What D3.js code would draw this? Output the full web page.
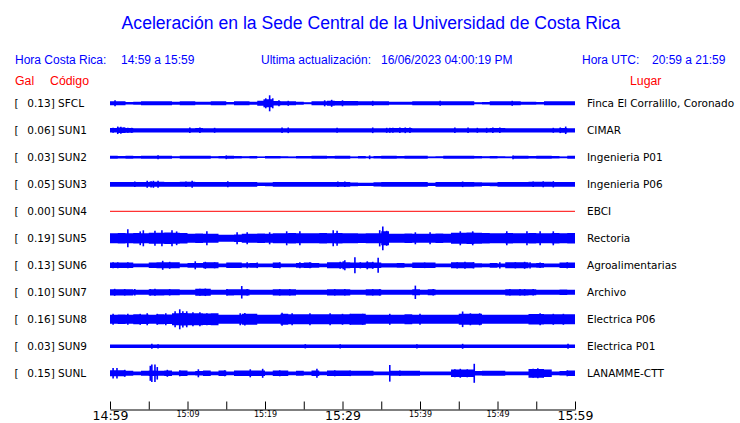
<!DOCTYPE html>
<html><head><meta charset="utf-8">
<script src="https://cdn.jsdelivr.net/npm/d3@7"></script>
<style>body{margin:0;background:#fff}svg{display:block}</style>
</head><body>
<svg id="c" width="740" height="423"></svg>
<script>
// ---- data ----
const stations = ["SFCL","SUN1","SUN2","SUN3","SUN4","SUN5","SUN6","SUN7","SUN8","SUN9","SUNL"];
const places = ["Finca El Corralillo, Coronado","CIMAR","Ingenieria P01","Ingenieria P06","EBCI","Rectoria","Agroalimentarias","Archivo","Electrica P06","Electrica P01","LANAMME-CTT"];
const maxGal = [0.13,0.06,0.03,0.05,0.00,0.19,0.13,0.10,0.16,0.03,0.15];
const tickMinutes = [0,5,10,15,20,25,30,35,40,45,50,55,60];
const tickLabels = ["14:59","","15:09","","15:19","","15:29","","15:39","","15:49","","15:59"];
const majorTicks = ["14:59","15:29","15:59"];

// per-minute envelope (Gal), minute 0 = 14:59
const envSFCL = [.032,.032,.019,.024,.032,.032,.032,.032,.024,.032,.032,.024,.024,.032,.032,.019,.032,.032,.024,.040,.064,.035,.032,.032,.024,.016,.032,.032,.040,.035,.035,.035,.032,.032,.032,.032,.024,.024,.024,.032,.032,.032,.032,.032,.032,.032,.032,.016,.019,.032,.032,.032,.032,.024,.024,.019,.032,.032,.032,.032];
const envSUN1 = [.036,.045,.038,.034,.034,.034,.034,.034,.034,.034,.034,.036,.034,.034,.034,.034,.034,.034,.034,.034,.034,.034,.034,.034,.034,.034,.034,.034,.034,.034,.034,.034,.034,.034,.034,.034,.036,.036,.036,.034,.034,.034,.034,.034,.034,.034,.034,.034,.034,.036,.036,.034,.034,.034,.034,.034,.034,.034,.038,.034];
const envSUN2 = [.024,.019,.024,.021,.024,.024,.024,.024,.016,.024,.024,.024,.024,.016,.021,.024,.019,.016,.019,.013,.019,.021,.016,.014,.021,.021,.024,.024,.021,.024,.024,.014,.019,.014,.019,.024,.024,.021,.024,.024,.024,.014,.016,.024,.024,.024,.024,.021,.016,.019,.016,.014,.024,.024,.021,.024,.024,.019,.014,.024];
const envSUN3 = [.038,.038,.038,.038,.038,.040,.040,.038,.038,.040,.040,.038,.038,.038,.038,.038,.038,.038,.038,.028,.030,.038,.038,.038,.038,.038,.038,.038,.038,.038,.038,.030,.026,.026,.034,.038,.038,.038,.038,.038,.038,.026,.038,.038,.038,.038,.038,.034,.028,.030,.038,.038,.038,.038,.040,.040,.040,.038,.038,.038];
const envSUN4 = [0,0,0,0,0,0,0,0,0,0,0,0,0,0,0,0,0,0,0,0,0,0,0,0,0,0,0,0,0,0,0,0,0,0,0,0,0,0,0,0,0,0,0,0,0,0,0,0,0,0,0,0,0,0,0,0,0,0,0,0];
const envSUN5 = [.080,.084,.080,.084,.080,.088,.088,.092,.088,.084,.072,.076,.072,.072,.056,.056,.060,.072,.072,.076,.072,.080,.080,.084,.080,.080,.080,.084,.080,.084,.080,.080,.076,.080,.080,.112,.072,.072,.076,.072,.072,.072,.076,.072,.088,.088,.092,.088,.084,.080,.080,.084,.080,.080,.084,.080,.080,.084,.080,.084];
const envSUN6 = [.045,.045,.045,.030,.030,.045,.048,.048,.048,.030,.038,.038,.048,.048,.030,.045,.045,.034,.038,.030,.030,.045,.030,.030,.038,.045,.038,.030,.048,.048,.048,.045,.045,.048,.045,.034,.034,.038,.030,.045,.045,.045,.030,.030,.048,.048,.048,.034,.030,.038,.030,.048,.048,.048,.034,.038,.030,.030,.045,.045];
const envSUN7 = [.050,.050,.050,.040,.040,.050,.050,.048,.048,.040,.040,.056,.056,.040,.040,.050,.048,.050,.040,.040,.040,.050,.050,.050,.040,.040,.040,.040,.050,.050,.050,.040,.040,.050,.050,.040,.040,.040,.040,.048,.040,.048,.040,.040,.040,.040,.040,.040,.040,.040,.040,.050,.050,.050,.048,.040,.040,.040,.044,.040];
const envSUN8 = [.072,.076,.072,.080,.076,.072,.080,.076,.096,.100,.096,.096,.092,.096,.072,.072,.072,.088,.088,.072,.072,.072,.088,.080,.080,.080,.080,.080,.080,.080,.080,.088,.088,.072,.072,.072,.072,.072,.080,.072,.072,.072,.072,.072,.072,.088,.088,.088,.072,.072,.072,.072,.072,.072,.085,.085,.080,.080,.080,.080];
const envSUN9 = [.029,.029,.029,.029,.029,.029,.029,.029,.029,.029,.029,.029,.029,.029,.029,.029,.029,.029,.029,.029,.029,.029,.029,.029,.029,.029,.029,.029,.029,.029,.029,.029,.029,.029,.029,.029,.029,.029,.029,.029,.029,.029,.029,.029,.029,.029,.029,.029,.029,.029,.029,.029,.029,.029,.029,.029,.029,.029,.029,.029];
const envSUNL = [.048,.048,.040,.030,.040,.045,.040,.045,.030,.045,.030,.035,.045,.030,.045,.030,.045,.045,.045,.045,.030,.045,.045,.030,.040,.030,.045,.030,.045,.045,.045,.040,.040,.040,.030,.030,.040,.040,.040,.040,.030,.030,.030,.030,.060,.060,.060,.035,.040,.040,.040,.030,.030,.030,.070,.070,.060,.030,.035,.045];

// isolated peaks [minute, Gal]
const pkSFCL = [[0.65,.048],[19.9,.064],[20.1,.08],[20.6,.128],[21.0,.08],[21.8,.048],[23.0,.04],[27.7,.048],[28.6,.056],[30.0,.048],[33.9,.04],[42.6,.04],[51.9,.04]];
const pkSUN1 = [[0.4,.04],[1.0,.06],[1.4,.056],[1.8,.045],[2.3,.04],[2.8,.04],[10.3,.045],[11.6,.045],[13.5,.04],[22.2,.045],[23.0,.045],[29.3,.04],[33.9,.045],[35.7,.04],[36.1,.04],[36.5,.04],[37.4,.045],[38.1,.045],[38.7,.045],[44.5,.045],[46.2,.045],[47.4,.04],[48.6,.04],[49.4,.045],[50.3,.045],[57.2,.04],[58.1,.045],[58.8,.06]];
const pkSUN2 = [[6.2,.032],[15.0,.03],[33.5,.03],[52.0,.03]];
const pkSUN3 = [[3.2,.045],[4.8,.056],[5.3,.05],[5.6,.056],[6.2,.056],[9.8,.045],[10.6,.056],[15.2,.048],[29.4,.045],[30.3,.045],[45.5,.045],[54.6,.045],[55.9,.048],[57.2,.05]];
const pkSUN4 = [];
const pkSUN5 = [[2.3,.144],[3.9,.11],[4.3,.128],[5.8,.12],[6.7,.128],[8.0,.128],[8.6,.11],[12.5,.112],[16.4,.096],[17.7,.096],[20.6,.096],[22.8,.112],[24.5,.112],[28.8,.128],[29.3,.12],[34.8,.13],[35.2,.19],[35.7,.12],[39.4,.096],[41.3,.096],[45.2,.112],[46.8,.112],[51.2,.112],[53.8,.112],[55.5,.112],[57.2,.112]];
const pkSUN6 = [[0.4,.048],[1.0,.048],[2.3,.048],[6.8,.072],[7.7,.056],[11.0,.064],[12.3,.056],[13.5,.048],[17.7,.048],[19.0,.045],[21.9,.048],[24.5,.048],[25.8,.048],[29.7,.056],[30.1,.064],[30.3,.08],[31.6,.128],[32.3,.05],[33.2,.064],[33.9,.056],[34.6,.12],[40.6,.045],[44.8,.05],[45.8,.056],[46.9,.05],[50.3,.05],[52.3,.05],[53.5,.056],[54.2,.05],[55.5,.045],[59.0,.05]];
const pkSUN7 = [[0.6,.056],[1.9,.052],[3.2,.052],[5.2,.052],[5.8,.056],[7.7,.052],[11.6,.056],[12.3,.06],[15.1,.052],[17.0,.10],[17.7,.052],[21.9,.052],[23.2,.052],[29.0,.052],[30.3,.052],[33.9,.052],[34.8,.052],[39.4,.107],[41.7,.052],[51.6,.052],[52.9,.052],[53.5,.052],[54.6,.052]];
const pkSUN8 = [[0.4,.088],[2.3,.088],[3.9,.088],[4.8,.096],[6.1,.088],[7.2,.096],[8.4,.128],[9.0,.16],[9.4,.13],[9.9,.128],[10.7,.112],[11.6,.112],[12.5,.096],[16.8,.096],[17.4,.10],[22.2,.104],[23.5,.096],[25.8,.096],[28.4,.096],[30.0,.088],[31.0,.088],[32.6,.088],[36.1,.088],[40.0,.088],[45.5,.125],[46.5,.096],[47.7,.096],[55.5,.096],[57.2,.088],[58.5,.088]];
const pkSUN9 = [[5.4,.04],[6.2,.034],[25.2,.034],[29.7,.034],[39.6,.034],[45.5,.04],[59.1,.04]];
const pkSUNL = [[0.4,.085],[0.9,.085],[1.9,.056],[5.2,.12],[5.4,.14],[5.8,.14],[6.1,.10],[7.4,.056],[9.0,.048],[11.4,.064],[14.8,.048],[18.1,.064],[19.7,.072],[21.9,.048],[26.7,.072],[29.0,.048],[31.0,.045],[36.1,.133],[37.4,.045],[44.5,.064],[45.2,.072],[46.1,.064],[47.0,.152],[54.6,.072],[55.2,.08],[55.9,.064],[59.0,.048]];

const envelopes = [envSFCL,envSUN1,envSUN2,envSUN3,envSUN4,envSUN5,envSUN6,envSUN7,envSUN8,envSUN9,envSUNL];
const peaks = [pkSFCL,pkSUN1,pkSUN2,pkSUN3,pkSUN4,pkSUN5,pkSUN6,pkSUN7,pkSUN8,pkSUN9,pkSUNL];

// ---- drawing ----
const svg = d3.select("#c");
const BLUE = "#0000ff", RED = "#ff0000";
const SANS = "'Liberation Sans', Arial, sans-serif";
const DJ = "'DejaVu Sans', sans-serif";

const x = d3.scaleLinear().domain([0,60]).range([110,575]);
const y = d3.scalePoint().domain(stations).range([103.3,373.3]);
const amp = d3.scaleLinear().domain([0,0.2]).range([0,12.5]);

svg.append("text").attr("x",371).attr("y",29).attr("text-anchor","middle")
  .attr("font-family",SANS).attr("font-size",17.6).attr("fill",BLUE)
  .text("Aceleración en la Sede Central de la Universidad de Costa Rica");

const info = [["Hora Costa Rica:",15],["14:59 a 15:59",121],["Ultima actualización:",261],["16/06/2023 04:00:19 PM",381],["Hora UTC:",582],["20:59 a 21:59",652]];
svg.selectAll("text.info").data(info).join("text").attr("class","info")
  .attr("x",d=>d[1]).attr("y",64).attr("font-family",SANS).attr("font-size",12)
  .attr("fill",BLUE).text(d=>d[0]);

const hdr = [["Gal",15],["Código",50],["Lugar",630]];
svg.selectAll("text.hdr").data(hdr).join("text").attr("class","hdr")
  .attr("x",d=>d[1]).attr("y",84.5).attr("font-family",SANS).attr("font-size",12.3)
  .attr("fill",RED).text(d=>d[0]);

const rows = svg.selectAll("g.row").data(stations).join("g").attr("class","row")
  .attr("transform",d=>`translate(0,${y(d)})`);

rows.append("text").attr("x",14.5).attr("y",4).attr("font-family",DJ).attr("font-size",10.5)
  .attr("fill","#000").text("[");
rows.append("text").attr("x",27.3).attr("y",4).attr("font-family",DJ).attr("font-size",10.5)
  .attr("fill","#000").text((d,i)=>maxGal[i].toFixed(2)+"] "+d);
rows.append("text").attr("x",587).attr("y",4).attr("font-family",DJ).attr("font-size",10.5)
  .attr("fill","#000").text((d,i)=>places[i]);

const area = d3.area().curve(d3.curveStepAfter)
  .x(d=>x(d[0])).y0(d=>-amp(d[1])).y1(d=>amp(d[1]));

rows.each(function(code,i){
  const g = d3.select(this);
  const env = envelopes[i];
  const col = maxGal[i] === 0 ? RED : BLUE;
  g.append("line").attr("x1",x(0)).attr("x2",x(60)).attr("y1",0).attr("y2",0)
    .attr("stroke",col).attr("stroke-width",1);
  if (d3.max(env) > 0) {
    const pts = env.map((v,k)=>[k,v]);
    pts.push([60, env[env.length-1]]);
    g.append("path").attr("d",area(pts)).attr("fill",col);
  }
  g.selectAll("line.pk").data(peaks[i]).join("line").attr("class","pk")
    .attr("x1",d=>x(d[0])).attr("x2",d=>x(d[0]))
    .attr("y1",d=>-amp(d[1])).attr("y2",d=>amp(d[1]))
    .attr("stroke",col).attr("stroke-width",1.6);
});

// time axis
const axis = d3.axisBottom(x).tickValues(tickMinutes).tickSizeInner(-8).tickSizeOuter(0)
  .tickFormat((d,i)=>tickLabels[i]);
const ax = svg.append("g").attr("transform","translate(0,409.5)").call(axis);
ax.select(".domain").attr("stroke","#000");
ax.selectAll(".tick line").attr("stroke","#000");
ax.selectAll(".tick text").attr("fill","#000").attr("font-family",DJ).attr("dy",null)
  .each(function(d,i){
    const big = majorTicks.includes(tickLabels[i]);
    d3.select(this).attr("font-size", big ? 12.5 : 8).attr("y", big ? 10 : 7.5);
  });
</script>
</body></html>
